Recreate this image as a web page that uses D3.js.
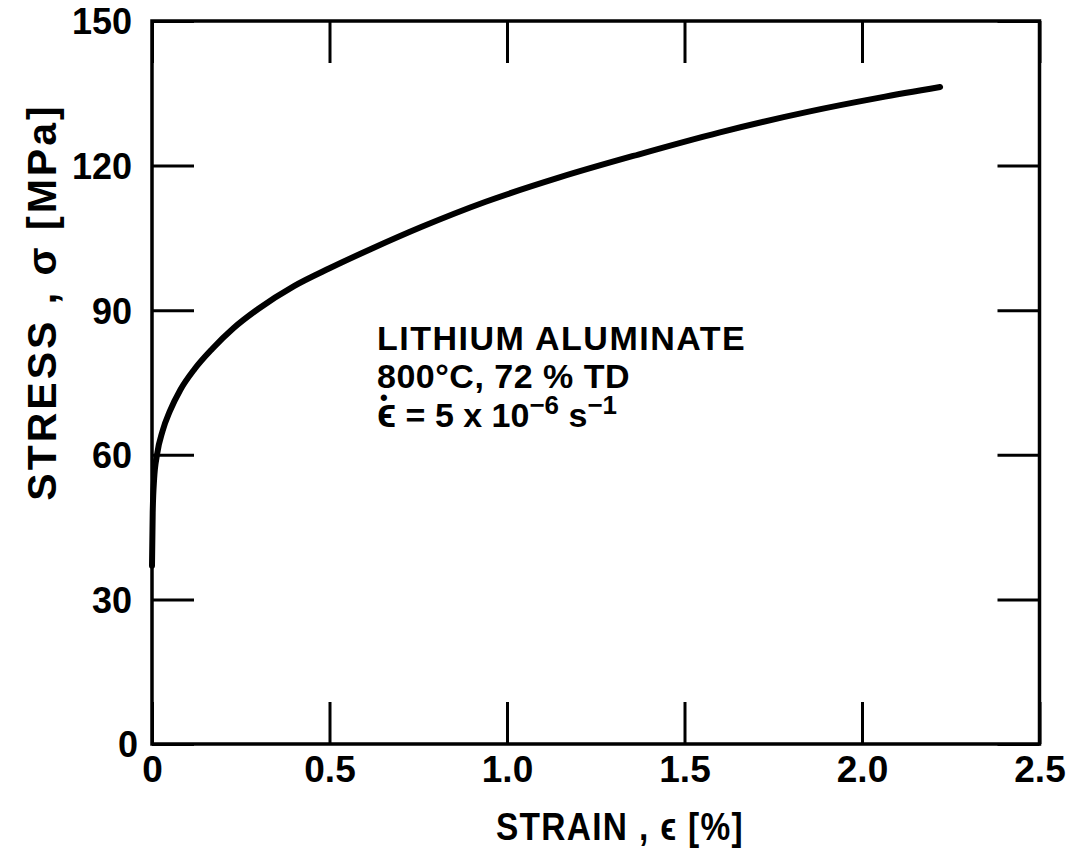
<!DOCTYPE html>
<html>
<head>
<meta charset="utf-8">
<script src="https://cdn.jsdelivr.net/npm/d3@7"></script>
<style>
  html, body { margin: 0; padding: 0; background: #fff; }
  svg { display: block; }
  text { font-family: "Liberation Sans", Arial, sans-serif; font-weight: bold; fill: #000; }
</style>
</head>
<body>
<script>
// ---- data ----
const strain = [0, 0.002, 0.006, 0.014, 0.03, 0.05, 0.08, 0.12, 0.17, 0.23, 0.30, 0.40, 0.50, 0.62, 0.76, 0.94, 1.15, 1.37, 1.60, 1.85, 2.05, 2.22];
const stress = [37, 48, 55, 60, 65, 69, 73.5, 77.8, 82, 86.3, 90.3, 95, 98.7, 102.8, 107.3, 112.5, 117.6, 122.3, 126.9, 131.2, 134.1, 136.3];
const xTicks = [0, 0.5, 1.0, 1.5, 2.0, 2.5];
const xTickLabels = ["0", "0.5", "1.0", "1.5", "2.0", "2.5"];
const yTicks = [0, 30, 60, 90, 120, 150];
const yTickLabels = ["0", "30", "60", "90", "120", "150"];
const xTitle = "STRAIN , \u03F5 [%]";
const yTitle = "STRESS , \u03C3 [MPa]";
const noteLines = ["LITHIUM ALUMINATE", "800\u00B0C, 72 % TD"];

// ---- layout ----
const W = 1082, H = 856;
const L = 152, R = 1039.5, T = 21, B = 744;
const svg = d3.select("body").append("svg").attr("width", W).attr("height", H);

const x = d3.scaleLinear().domain([0, 2.5]).range([L, R]);
const y = d3.scaleLinear().domain([0, 150]).range([B, T]);

const tickLen = 42;

// bottom axis
const gx = svg.append("g").attr("transform", `translate(0,${B})`)
  .call(d3.axisBottom(x).tickValues(xTicks).tickFormat((d, i) => xTickLabels[i]).tickSize(-tickLen).tickPadding(11).tickSizeOuter(0));
// top ticks
const gxt = svg.append("g").attr("transform", `translate(0,${T})`)
  .call(d3.axisTop(x).tickValues(xTicks).tickFormat("").tickSize(-tickLen).tickSizeOuter(0));
// left axis
const gy = svg.append("g").attr("transform", `translate(${L},0)`)
  .call(d3.axisLeft(y).tickValues(yTicks).tickFormat((d, i) => yTickLabels[i]).tickSize(-tickLen).tickPadding(20).tickSizeOuter(0));
// right ticks
const gyr = svg.append("g").attr("transform", `translate(${R},0)`)
  .call(d3.axisRight(y).tickValues(yTicks).tickFormat("").tickSize(-tickLen).tickSizeOuter(0));

[gx, gxt, gy, gyr].forEach(g => {
  g.select(".domain").remove();
  g.selectAll(".tick line").attr("stroke", "#000").attr("stroke-width", 3);
});
gx.selectAll(".tick text").attr("font-size", 37).attr("font-family", "Liberation Sans, Arial, sans-serif").attr("font-weight", "bold").attr("fill", "#000").attr("dy", "0.72em");
gy.selectAll(".tick text").attr("font-size", 36).attr("font-family", "Liberation Sans, Arial, sans-serif").attr("font-weight", "bold").attr("fill", "#000").attr("dy", "0.36em");
gy.selectAll(".tick").filter(d => d === 0).select("text").attr("dy", "0.36em").attr("x", -14);

// frame
svg.append("rect").attr("x", L).attr("y", T).attr("width", R - L).attr("height", B - T)
  .attr("fill", "none").attr("stroke", "#000").attr("stroke-width", 3.5);

// curve
const pts = strain.map((s, i) => [s, stress[i]]);
svg.append("path").datum(pts)
  .attr("fill", "none").attr("stroke", "#000").attr("stroke-width", 6).attr("stroke-linecap", "round")
  .attr("d", d3.line().x(d => x(d[0])).y(d => y(d[1])).curve(d3.curveMonotoneX));

// axis titles
svg.append("text").attr("transform", "translate(620,840) scale(0.88,1)").attr("text-anchor", "middle")
  .attr("font-size", 38).attr("letter-spacing", 1.5).text(xTitle);
svg.append("text").attr("transform", "translate(56,302) rotate(-90)").attr("text-anchor", "middle")
  .attr("font-size", 41).attr("letter-spacing", 3).text(yTitle);

// annotation
const nx = 377;
svg.append("text").attr("x", nx).attr("y", 350).attr("font-size", 34)
  .attr("letter-spacing", 1.5).text(noteLines[0]);
svg.append("text").attr("x", nx).attr("y", 388).attr("font-size", 34)
  .attr("letter-spacing", 0.5).text(noteLines[1]);
const t3 = svg.append("text").attr("x", nx).attr("y", 427).attr("font-size", 34);
t3.append("tspan").attr("font-size", 40).text("\u03F5");
t3.append("tspan").text(" = 5 x 10");
t3.append("tspan").attr("dy", -13).attr("font-size", 26).text("\u22126");
t3.append("tspan").attr("dy", 13).text(" s");
t3.append("tspan").attr("dy", -13).attr("font-size", 26).text("\u22121");
// dot over epsilon
svg.append("text").attr("x", nx + 3).attr("y", 405).attr("font-size", 22).text("\u2022");
</script>
</body>
</html>
